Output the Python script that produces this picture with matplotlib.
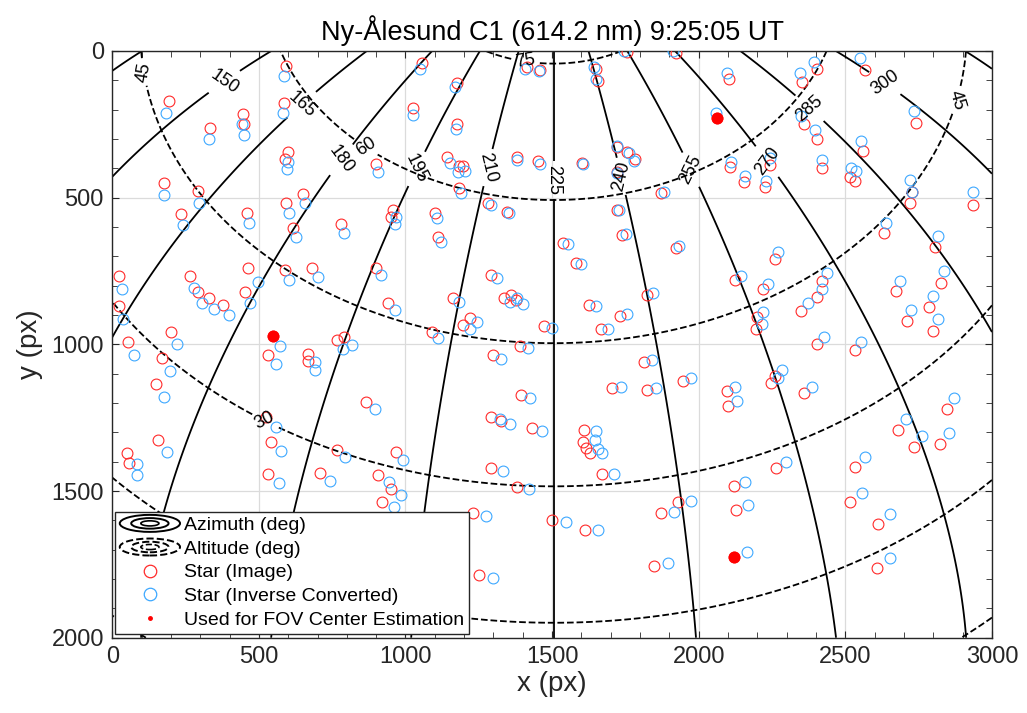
import numpy as np
import matplotlib
matplotlib.use('Agg')
import matplotlib.pyplot as plt
from matplotlib.lines import Line2D
from matplotlib.patches import Ellipse
from matplotlib.legend_handler import HandlerBase
from matplotlib.ticker import MultipleLocator

plt.rcParams['font.family'] = ['Liberation Sans', 'DejaVu Sans']

# ---------------- data (pixel coordinates of stars) ----------------
# star positions found in the image (red) and inverse-converted positions (blue)
star_img_x = [594, 194, 333, 447, 449, 585, 598, 590, 901, 175, 291, 235, 458, 594, 650, 615, 779, 959, 950,
              1055, 1174, 1026, 1174, 1413, 1458, 1754, 1922, 1649, 1658, 1143, 1183, 1197, 1183, 1381, 1453, 1603,
              1720, 1757, 1782, 1720, 1873, 1282, 1347, 1100, 1112, 1720, 1737, 1538, 1924,
              2103, 2061, 2353, 2405, 2566, 2358, 2402, 2742, 2561, 2106, 2154, 2242, 2225, 2421, 2517, 2532, 2726,
              2720, 2936, 2632, 2807,
              23, 23, 55, 265, 291, 330, 376, 464, 452, 589, 682, 899, 941, 200, 171, 148, 549, 532, 666, 668, 765,
              791, 864, 524, 157, 540, 765, 966,
              1583, 1293, 1163, 1336, 1359, 1376, 1220, 1197, 1089, 1472, 1626, 1731, 1665, 1822, 1392, 1297, 1813,
              1945, 1703, 1822, 1393, 1290, 1324, 1430, 1609, 1606, 1617, 1629,
              2259, 2125, 2220, 2422, 2405, 2350, 2199, 2195, 2405, 2534, 2672, 2711, 2786, 2825, 2799, 2259, 2245,
              2097, 2100, 2358, 2847, 2680, 2733, 2824,
              52, 57, 532, 708, 905, 950, 921,
              1293, 1381, 1231, 1500, 1612, 1250, 1671, 1871, 1930, 1847,
              2262, 2121, 2127, 2121, 2532, 2517, 2612, 2608]
star_img_y = [51, 170, 261, 215, 250, 176, 346, 368, 385, 449, 476, 554, 551, 519, 488, 602, 591, 542, 565,
              42, 108, 195, 250, 56, 65, 2, 6, 63, 101, 363, 392, 392, 468, 363, 374, 383,
              328, 343, 369, 411, 485, 517, 548, 551, 633, 542, 627, 656, 673,
              97, 227, 105, 63, 65, 249, 299, 247, 340, 394, 446, 389, 465, 398, 428, 442, 480,
              519, 525, 619, 667,
              766, 869, 991, 766, 821, 841, 866, 741, 823, 747, 739, 739, 860, 957, 1048, 1136, 971, 1036, 1034,
              1057, 985, 976, 1198, 1247, 1326, 1332, 1360, 1366,
              724, 764, 841, 843, 832, 849, 909, 934, 959, 936, 866, 902, 949, 832, 1005, 1036, 1061,
              1125, 1148, 1154, 1173, 1247, 1261, 1286, 1292, 1332, 1355, 1372,
              709, 781, 813, 784, 840, 885, 906, 949, 1000, 1019, 818, 921, 872, 792, 954, 1108, 1131,
              1159, 1210, 1167, 1222, 1292, 1349, 1341,
              1370, 1406, 1442, 1438, 1446, 1494, 1537,
              1420, 1485, 1574, 1599, 1633, 1787, 1442, 1576, 1539, 1755,
              1420, 1483, 1565, 1724, 1417, 1537, 1613, 1764]
star_inv_x = [586, 183, 331, 444, 448, 581, 598, 596, 905, 177, 296, 240, 466, 604, 658, 625, 789, 968, 964,
              1049, 1168, 1024, 1172, 1407, 1456, 1746, 1913, 1642, 1649, 1151, 1180, 1204, 1189, 1381, 1458, 1604,
              1720, 1763, 1780, 1722, 1882, 1290, 1354, 1106, 1121, 1729, 1752, 1555, 1933,
              2095, 2058, 2345, 2394, 2549, 2350, 2398, 2735, 2555, 2109, 2159, 2242, 2231, 2421, 2519, 2536, 2720,
              2726, 2936, 2637, 2816,
              34, 38, 75, 280, 307, 347, 398, 498, 469, 603, 702, 916, 964, 222, 197, 176, 572, 560, 691, 693, 788,
              816, 896, 557, 185, 574, 793, 990,
              1600, 1311, 1183, 1356, 1379, 1401, 1245, 1220, 1112, 1498, 1651, 1756, 1691, 1845, 1418, 1324, 1842,
              1975, 1734, 1853, 1424, 1322, 1356, 1467, 1648, 1647, 1657, 1669,
              2271, 2144, 2237, 2439, 2422, 2373, 2220, 2217, 2428, 2555, 2686, 2725, 2799, 2836, 2816, 2284, 2271,
              2125, 2131, 2387, 2871, 2706, 2763, 2853,
              83, 86, 569, 744, 943, 984, 962,
              1333, 1422, 1273, 1546, 1656, 1297, 1712, 1915, 1972, 1894,
              2297, 2159, 2169, 2165, 2566, 2556, 2652, 2652]
star_inv_y = [85, 213, 300, 250, 286, 210, 377, 402, 411, 491, 517, 594, 586, 551, 519, 635, 619, 565, 590,
              63, 122, 218, 267, 63, 67, 0, 0, 56, 97, 381, 411, 408, 483, 372, 385, 385,
              324, 349, 374, 417, 480, 525, 551, 570, 650, 542, 624, 658, 665,
              76, 210, 76, 36, 25, 222, 269, 203, 306, 377, 426, 366, 442, 372, 400, 409, 440,
              480, 480, 585, 631,
              811, 914, 1036, 807, 860, 881, 900, 786, 860, 781, 769, 764, 883, 999, 1091, 1181, 1005, 1068, 1061,
              1088, 1016, 1002, 1222, 1281, 1366, 1363, 1383, 1394,
              726, 775, 857, 855, 841, 864, 925, 948, 977, 943, 868, 898, 948, 824, 1014, 1050, 1053,
              1114, 1147, 1148, 1182, 1255, 1273, 1296, 1296, 1326, 1357, 1372,
              686, 766, 796, 758, 811, 860, 889, 931, 974, 991, 784, 883, 834, 749, 914, 1088, 1114,
              1144, 1193, 1144, 1182, 1255, 1312, 1301,
              1408, 1446, 1474, 1465, 1468, 1514, 1554,
              1432, 1493, 1585, 1604, 1633, 1796, 1442, 1571, 1533, 1747,
              1400, 1468, 1548, 1709, 1385, 1506, 1580, 1730]
# stars used for the FOV centre estimation
fov_x = [549, 2061, 2121]
fov_y = [971, 227, 1724]

# grid levels and label anchor points
az_levels = list(range(120, 346, 15))
alt_levels = [0, 15, 30, 45, 60, 75]
az_label_xy = [(385, 109), (641, 177), (783, 372), (1032, 399), (1288, 399), (1503, 440),
               (1724, 430), (1970, 406), (2226, 382), (2379, 194), (2635, 109)]
alt_label_xy = [(88, 75), (2897, 174), (862, 331), (1407, 37), (521, 1258)]

# ---------------- camera model for the alt/az grid ----------------
CX, CY = 1505.0, 996.0
ALT0, AZ0 = 45.0, 225.0
K1, K3 = 1878.7, -213.6

tt = np.linspace(0, 1.6, 4000)
rr = K1 * tt + K3 * tt ** 3
gx = np.linspace(0, 3000, 751)
gy = np.linspace(0, 2000, 501)
GX, GY = np.meshgrid(gx, gy)
ddx = GX - CX
ddy = CY - GY
rad = np.hypot(ddx, ddy)
phi = np.arctan2(ddy, ddx)
theta = np.interp(rad, rr, tt)
a0, z0 = np.radians(ALT0), np.radians(AZ0)
zc = np.array([np.cos(a0) * np.sin(z0), np.cos(a0) * np.cos(z0), np.sin(a0)])
rt = np.array([np.cos(z0), -np.sin(z0), 0.0])
upv = np.cross(rt, zc)
d = [np.cos(theta) * zc[i] + np.sin(theta) * (np.cos(phi) * rt[i] + np.sin(phi) * upv[i]) for i in range(3)]
ALT = np.degrees(np.arcsin(np.clip(d[2], -1, 1)))
AZ = np.degrees(np.arctan2(d[0], d[1])) % 360

# ---------------- figure ----------------
fig = plt.figure(figsize=(10.27, 7.13), dpi=100)
ax = fig.add_axes([0.1093, 0.1056, 0.8566, 0.8229])
axc = (0.15, 0.15, 0.15)

cs_az = ax.contour(GX, GY, AZ, levels=az_levels, colors='k', linewidths=1.3, linestyles='-', zorder=2)
cs_alt = ax.contour(GX, GY, ALT, levels=alt_levels, colors='k', linewidths=1.3, linestyles='--', zorder=2)
ax.clabel(cs_az, manual=az_label_xy, fmt='%d', fontsize=13, inline=True, inline_spacing=4)
ax.clabel(cs_alt, manual=alt_label_xy, fmt='%d', fontsize=13, inline=True, inline_spacing=4)

ax.plot(star_img_x, star_img_y, 'o', ls='none', mfc='none', mec='#FF2A2A', ms=7.8, mew=0.8, zorder=3)
ax.plot(star_inv_x, star_inv_y, 'o', ls='none', mfc='none', mec='#3DA8FF', ms=7.8, mew=0.8, zorder=3)
ax.plot(fov_x, fov_y, 'o', ls='none', color='red', ms=7.5, zorder=4)

ax.set_xlim(0, 3000)
ax.set_ylim(2000, 0)
ax.set_xticks(range(0, 3001, 500))
ax.set_yticks(range(0, 2001, 500))
ax.xaxis.set_minor_locator(MultipleLocator(100))
ax.yaxis.set_minor_locator(MultipleLocator(100))
ax.tick_params(which='both', direction='in', top=True, right=True, color=axc)
ax.tick_params(which='major', length=5, labelsize=17, labelcolor=axc, pad=6)
ax.tick_params(which='minor', length=4)
ax.grid(True, which='major', color=(0.86, 0.86, 0.86), lw=0.9)
ax.set_axisbelow(True)
for s in ax.spines.values():
    s.set_color(axc)
    s.set_linewidth(1.0)

ax.set_xlabel('x (px)', fontsize=20, color=axc, labelpad=2)
ax.set_ylabel('y (px)', fontsize=20, color=axc, labelpad=6)
ax.set_title('Ny-Ålesund C1 (614.2 nm) 9:25:05 UT', fontsize=19.5, color='k', pad=8)


class HandlerContour(HandlerBase):
    def __init__(self, ls):
        super().__init__()
        self.ls = ls

    def create_artists(self, legend, orig_handle, xdescent, ydescent, width, height, fontsize, trans):
        cx = 0.5 * width - xdescent
        cy = 0.5 * height - ydescent
        arts = []
        for s in (1.0, 0.62, 0.3):
            e = Ellipse((cx, cy), width * s, height * 1.25 * s, fill=False, edgecolor='k',
                        linestyle=self.ls, linewidth=1.4 if s > 0.5 else 1.2, transform=trans)
            arts.append(e)
        return arts


h_az = Line2D([], [], color='k', ls='-')
h_alt = Line2D([], [], color='k', ls='--')
h_img = Line2D([], [], marker='o', ls='none', mfc='none', mec='#FF2A2A', ms=9, mew=0.9)
h_inv = Line2D([], [], marker='o', ls='none', mfc='none', mec='#3DA8FF', ms=9, mew=0.9)
h_fov = Line2D([], [], marker='o', ls='none', color='red', ms=2.5)
leg = ax.legend([h_az, h_alt, h_img, h_inv, h_fov],
                ['Azimuth (deg)', 'Altitude (deg)', 'Star (Image)', 'Star (Inverse Converted)',
                 'Used for FOV Center Estimation'],
                handler_map={h_az: HandlerContour('-'), h_alt: HandlerContour('--')},
                loc='lower left', bbox_to_anchor=(0.003, 0.007), borderaxespad=0,
                fontsize=14, handlelength=3.1, handletextpad=0.2, labelspacing=0.31,
                borderpad=0.25, fancybox=False, framealpha=1, edgecolor=axc)
leg.get_frame().set_linewidth(1.0)
leg.set_zorder(10)

fig.savefig('out.png', dpi=100)
